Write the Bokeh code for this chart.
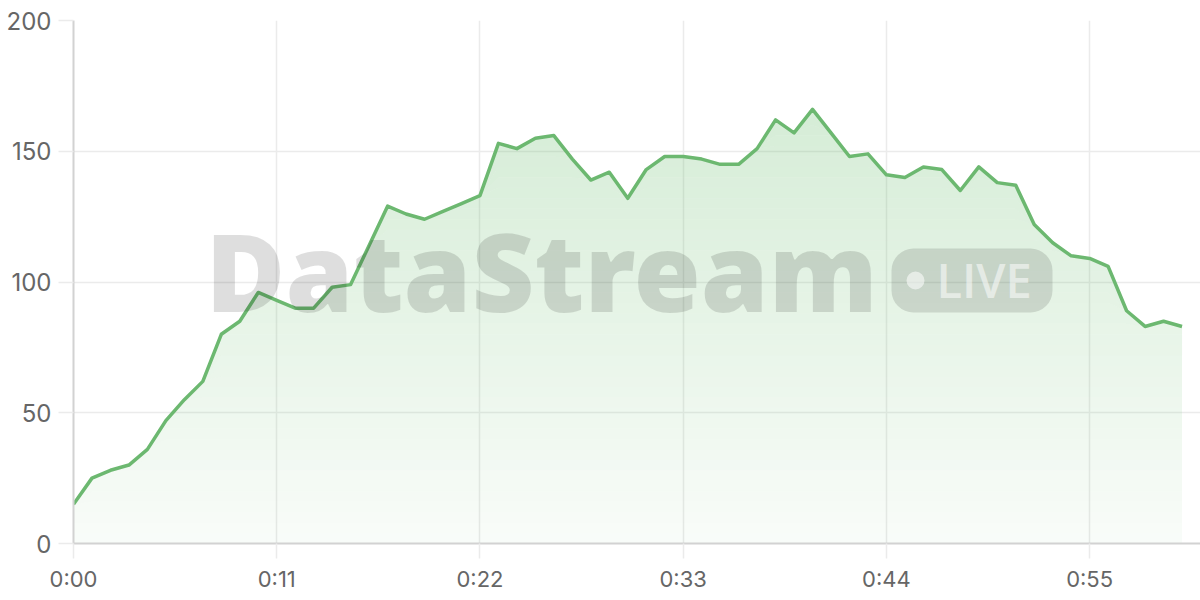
import numpy as np
from bokeh.plotting import figure
from bokeh.models import Range1d, FixedTicker, Label, BoxAnnotation
from bokeh.embed import file_html
from bokeh.resources import INLINE

# ---- data ----
seconds = list(range(0, 61))
values = [15, 25, 28, 30, 36, 47, 55, 62, 80, 85,
          96, 93, 90, 90, 98, 99, 114, 129, 126, 124,
          127, 130, 133, 153, 151, 155, 156, 147, 139, 142,
          132, 143, 148, 148, 147, 145, 145, 151, 162, 157,
          166, 157, 148, 149, 141, 140, 144, 143, 135, 144,
          138, 137, 122, 115, 110, 109, 106, 89, 83, 85, 83]
x_ticks = [0, 11, 22, 33, 44, 55]
x_tick_labels = ["0:00", "0:11", "0:22", "0:33", "0:44", "0:55"]
y_ticks = [0, 50, 100, 150, 200]

LINE = "#6cb870"
FONT = "Inter"

p = figure(width=1200, height=600, output_backend="svg", toolbar_location=None,
           x_range=Range1d(0, 61), y_range=Range1d(0, 200),
           min_border_left=73, min_border_right=0, min_border_top=20, min_border_bottom=57)
p.outline_line_color = None
p.background_fill_color = "white"
p.border_fill_color = "white"

# grid
for g in (p.xgrid, p.ygrid):
    g.grid_line_color = "#ebebeb"
    g.grid_line_width = 1.5
p.xgrid.ticker = FixedTicker(ticks=x_ticks)
p.ygrid.ticker = FixedTicker(ticks=y_ticks)

# axes
p.xaxis.ticker = FixedTicker(ticks=x_ticks)
p.xaxis.major_label_overrides = dict(zip(x_ticks, x_tick_labels))
p.yaxis.ticker = FixedTicker(ticks=y_ticks)
for ax in (p.xaxis[0], p.yaxis[0]):
    ax.axis_line_color = "#d2d2d2"
    ax.axis_line_width = 2
    ax.major_tick_line_color = "#ebebeb"
    ax.major_tick_line_width = 1.5
    ax.major_tick_out = 15
    ax.major_tick_in = 0
    ax.minor_tick_line_color = None
    ax.major_label_text_font = FONT
    ax.major_label_text_color = "#666666"
p.xaxis.major_label_text_font_size = "22px"
p.yaxis.major_label_text_font_size = "24px"
p.xaxis.major_label_standoff = 7
p.yaxis.major_label_standoff = 7

# gradient fill under the line, built from stacked bands
vals = np.array(values, dtype=float)
n_bands = 50
a_top, a_bot = 0.32, 0.04
for k in range(n_bands):
    lo = 200.0 * k / n_bands
    hi = 200.0 * (k + 1) / n_bands
    if lo >= vals.max():
        break
    mid = (lo + hi) / 2.0
    alpha = a_bot + (a_top - a_bot) * mid / 200.0
    p.varea(x=seconds, y1=np.minimum(vals, lo), y2=np.minimum(vals, hi),
            fill_color="#66bb6a", fill_alpha=alpha)

# watermark (screen units are relative to the plot frame)
p.add_layout(Label(x=132, y=274, x_units="screen", y_units="screen", text="DataStream",
                   text_font="Open Sans ExtraBold", text_font_style="normal",
                   text_font_size="109px", text_color="black", text_alpha=0.13,
                   text_baseline="alphabetic", text_align="left"))
p.add_layout(BoxAnnotation(left=818, right=979, bottom=231, top=295,
                           left_units="screen", right_units="screen",
                           top_units="screen", bottom_units="screen",
                           fill_color="black", fill_alpha=0.12, line_color=None,
                           border_radius=22))
p.add_layout(BoxAnnotation(left=833, right=851, bottom=254, top=272,
                           left_units="screen", right_units="screen",
                           top_units="screen", bottom_units="screen",
                           fill_color="white", fill_alpha=0.55, line_color=None,
                           border_radius=9))
p.add_layout(Label(x=863, y=264, x_units="screen", y_units="screen", text="LIVE",
                   text_font="Open Sans SemiBold", text_font_style="normal",
                   text_font_size="47px", text_color="white", text_alpha=0.55,
                   text_baseline="alphabetic", text_align="left"))

# line
p.line(seconds, values, line_color=LINE, line_width=3.5, line_join="round")

open("out.html", "w").write(file_html(p, INLINE))
